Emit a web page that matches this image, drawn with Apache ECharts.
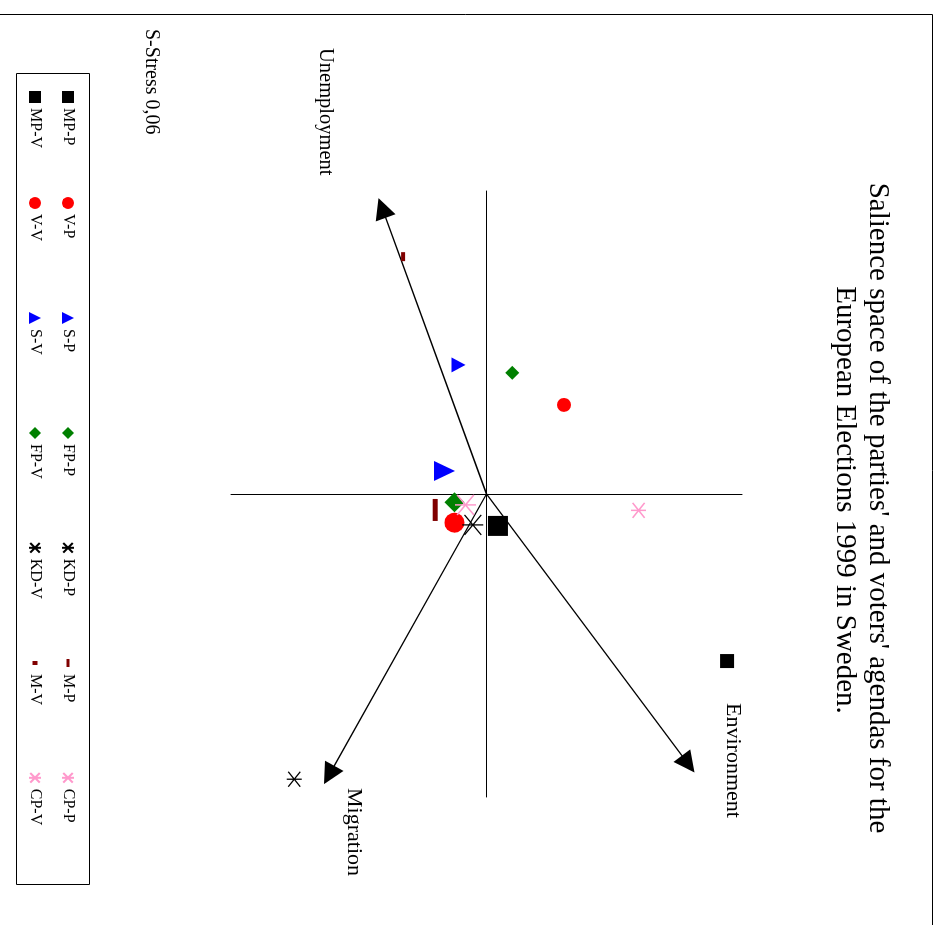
<!DOCTYPE html>
<html>
<head>
<meta charset="utf-8">
<title>Salience space Sweden 1999</title>
<script src="https://cdn.jsdelivr.net/npm/echarts@6/dist/echarts.min.js"></script>
<style>
  html, body { margin: 0; padding: 0; background: #fff; overflow: hidden; }
  #page { position: absolute; left: 0; top: 0; width: 939px; height: 925px; overflow: hidden; }
  /* the printed page is turned a quarter clockwise, so the chart is laid out upright and the box is rotated */
  #main { position: absolute; left: 0; top: 0; width: 925px; height: 939px;
          transform-origin: 0 0; transform: translate(939px, 0) rotate(90deg); }
</style>
</head>
<body>
<div id="page"><div id="main"></div></div>
<script>
// 政党 / 选民 坐标 (dimension 1 = x, dimension 2 = y)
var parties = ['MP', 'V', 'S', 'FP', 'KD', 'M', 'CP'];
var partyX = [0.827, -0.441, -0.639, -0.600, 1.412, -1.175, 0.081];
var partyY = [1.177, 0.379, -0.137, 0.126, -0.940, -0.408, 0.744];
var voterX = [0.158, 0.142, -0.114, 0.041, 0.153, 0.079, 0.054];
var voterY = [0.056, -0.157, -0.205, -0.157, -0.067, -0.251, -0.103];
// issue vectors
var vectors = ['Unemployment', 'Environment', 'Migration'];
var vectorX = [-1.416, 1.337, 1.391];
var vectorY = [-0.511, 0.987, -0.770];

var serif = '"Liberation Serif", "Times New Roman", serif';
var star = 'path://M10,0L10,20M2,2L18,18M18,2L2,18';
// left edge of each legend column (px)
var legendCols = [91, 197, 312, 427, 542, 657, 772];

// marker look per party
function markerStyle(p, voter) {
  switch (p) {
    case 'MP': return { symbol: 'rect', size: voter ? 20 : 14, color: '#000000' };
    case 'V': return { symbol: 'circle', size: voter ? 20 : 14, color: '#ff0000' };
    case 'S': return { symbol: 'triangle', size: voter ? [20, 21] : [15, 14], color: '#0000ff' };
    case 'FP': return { symbol: 'diamond', size: voter ? 20 : 14, color: '#008000' };
    case 'KD': return { symbol: star, size: voter ? [20, 21] : [15, 15], color: '#000000', line: 1.3 };
    case 'M': return { symbol: 'rect', size: voter ? [22, 5] : [9, 4], color: '#800000' };
    case 'CP': return { symbol: star, size: voter ? [20, 21] : [15, 15], color: '#ff99cc', line: 1.5 };
  }
}

function legendIcon(p, voter) {
  if (p === 'M') {
    return voter ? 'path://M0,0M12,12M4,3.5h4v5h-4z' : 'path://M0,0M12,12M2,4.5h8v3h-8z';
  }
  return undefined;
}

var series = [];
var legends = [];
parties.forEach(function (p, i) {
  var colData = [];
  [false, true].forEach(function (voter) {
    var st = markerStyle(p, voter);
    var name = p + (voter ? '-V' : '-P');
    series.push({
      name: name,
      type: 'scatter',
      z: voter ? 4 : 3,
      symbol: st.symbol,
      symbolSize: st.size,
      itemStyle: {
        color: st.color,
        borderColor: st.color,
        borderWidth: st.line || 0,
        opacity: 1
      },
      emphasis: { disabled: true },
      data: [[voter ? voterX[i] : partyX[i], voter ? voterY[i] : partyY[i]]]
    });
    var item = { name: name };
    var ic = legendIcon(p, voter);
    if (ic) item.icon = ic;
    colData.push(item);
  });
  // one small legend per party column: P on top, V below
  legends.push({
    left: legendCols[i],
    top: 863,
    orient: 'vertical',
    padding: 0,
    itemWidth: 12,
    itemHeight: 12,
    itemGap: 17,
    selectedMode: false,
    textStyle: { fontFamily: serif, fontSize: 16, color: '#000' },
    data: colData
  });
});

series.push({
  name: 'vectors',
  type: 'lines',
  coordinateSystem: 'cartesian2d',
  z: 1,
  silent: true,
  symbol: ['none', 'triangle'],
  symbolSize: 21,
  lineStyle: { color: '#000', width: 1.4, opacity: 1 },
  data: vectors.map(function (v, i) {
    return { name: v, coords: [[0, 0], [vectorX[i], vectorY[i]]] };
  })
});

function label(text, x, y, size, align) {
  return {
    type: 'text',
    x: x,
    y: y,
    silent: true,
    style: {
      text: text,
      fontFamily: serif,
      fontSize: size,
      fill: '#000',
      align: align || 'left',
      verticalAlign: 'middle'
    }
  };
}

var option = {
  animation: false,
  backgroundColor: '#fff',
  grid: { left: 191, top: 197, width: 606, height: 511 },
  xAxis: {
    type: 'value',
    min: -1.5,
    max: 1.5,
    axisLine: { onZero: true, lineStyle: { color: '#000', width: 1 } },
    axisTick: { show: false },
    axisLabel: { show: false },
    splitLine: { show: false }
  },
  yAxis: {
    type: 'value',
    min: -1.25,
    max: 1.25,
    axisLine: { onZero: true, lineStyle: { color: '#000', width: 1 } },
    axisTick: { show: false },
    axisLabel: { show: false },
    splitLine: { show: false }
  },
  legend: legends,
  graphic: [
    {
      type: 'rect',
      silent: true,
      shape: { x: 14.5, y: 6.5, width: 1000, height: 1000 },
      style: { fill: 'none', stroke: '#000', lineWidth: 1 }
    },
    {
      // legend frame
      type: 'rect',
      silent: true,
      shape: { x: 73.5, y: 849.5, width: 811, height: 73 },
      style: { fill: 'none', stroke: '#000', lineWidth: 1 }
    },
    label("Salience space of the parties' and voters' agendas for the", 508, 61, 29, 'center'),
    label('European Elections 1999 in Sweden.', 500, 94, 29, 'center'),
    label('Unemployment', 48, 614, 20.5),
    label('Environment', 703, 206, 22),
    label('Migration', 788, 585, 22),
    label('S-Stress 0,06', 29, 788, 20)
  ],
  series: series
};

var chart = echarts.init(document.getElementById('main'), null, { renderer: 'canvas' });
chart.setOption(option);
</script>
</body>
</html>
